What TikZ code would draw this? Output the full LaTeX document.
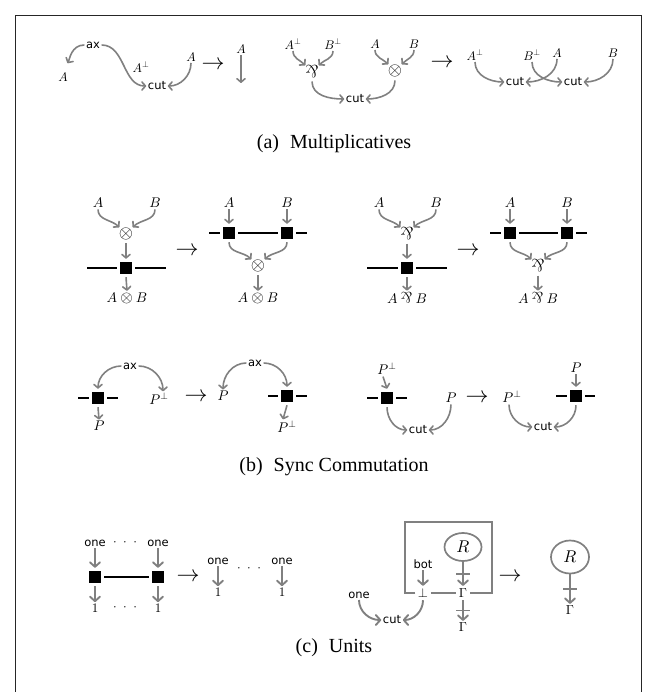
\documentclass[tikz,border=0pt]{standalone}
\usepackage{fontspec}
\DeclareFontShape{OML}{cmm}{m}{it}{<->cmmi10}{}
\DeclareFontShape{OMS}{cmsy}{m}{n}{<->cmsy10}{}
\DeclareFontShape{OT1}{cmr}{m}{n}{<->cmr10}{}
\newfontfamily\dvs{DejaVu Sans}
\newfontfamily\capf{Liberation Serif}
\usetikzlibrary{arrows.meta,calc,shapes.geometric}
\newcommand{\parrsym}{\mathbin{\scalebox{1.1}{\rotatebox[origin=c]{180}{$\&$}}}}
\newcommand{\bigparr}{\scalebox{1.35}{\rotatebox[origin=c]{180}{$\&$}}}
\newcommand{\bigtens}{\scalebox{1.4}{$\otimes$}}
\newcommand{\midtens}{\mathbin{\scalebox{1.15}{$\otimes$}}}
\newcommand{\dotsrow}{$\cdot$\hspace{6.5pt}$\cdot$\hspace{6.5pt}$\cdot$}
\begin{document}
\begin{tikzpicture}[x=1pt,y=1pt,
  mth/.style={font=\fontsize{14}{16}\selectfont, inner sep=1.5pt},
  mtha/.style={font=\fontsize{12.5}{14}\selectfont, inner sep=1.5pt},
  mthc/.style={font=\fontsize{13}{15}\selectfont, inner sep=1.5pt},
  sfl/.style={font=\dvs\fontsize{11.5}{13}\selectfont, inner sep=1.5pt},
  blk/.style={fill=black, minimum size=11.5pt, inner sep=0pt, outer sep=3.5pt},
  conn/.style={draw=gray, line width=1.6pt, -{Straight Barb[length=3.5pt,width=8pt,round]}},
  connb/.style={draw=gray, line width=1.9pt, -{Straight Barb[length=4.5pt,width=10pt,round]}},
  wire/.style={line width=2.5pt},
  redn/.style={font=\fontsize{23}{26}\selectfont, inner sep=0pt},
  capt/.style={font=\capf\fontsize{20}{24}\selectfont},
  opn/.style={circle, inner sep=0pt, font=\fontsize{13}{15}\selectfont},
  boxl/.style={draw=gray, line width=2.2pt},
  frm/.style={draw=black!85, line width=0.9pt},
  rcirc/.style={ellipse, draw=gray, line width=1.7pt, inner sep=0pt, font=\fontsize{17}{20}\selectfont},
  tick/.style={draw=gray, line width=1.6pt}
]
\useasboundingbox (0,0) rectangle (654,-692);
\draw[frm] (15,-692) -- (15,-15) -- (641,-15) -- (641,-692);

% ---------- (a) Multiplicatives ----------
% left
\node[sfl] (ax1) at (93,-45) {ax};
\node[mtha] (A1) at (63,-77) {$A$};
\node[mtha] (Ap1) at (141,-67) {$A^\perp$};
\node[sfl] (cut1) at (157,-86) {cut};
\node[mtha] (A2) at (191,-57) {$A$};
\node[redn] (r1) at (213,-65) {$\to$};
\node[mtha] (A3) at (241,-49) {$A$};
\coordinate (A3e) at (241,-83);
\draw[conn, shorten >=9pt] (ax1.west) to[out=180,in=60] (A1.north);
\draw[conn] (ax1.east) to[out=0,in=180] (cut1.west);
\draw[conn] (A2.south) to[out=-90,in=0] (cut1.east);
\draw[conn] (A3.south) -- (A3e);
% middle
\node[mtha] (Ap2) at (293,-44) {$A^\perp$};
\node[mtha] (Bp2) at (333,-44) {$B^\perp$};
\node[mtha] (A4) at (375,-44) {$A$};
\node[mtha] (B4) at (414,-44) {$B$};
\node[opn] (par1) at (312,-72) {\bigparr};
\node[opn] (ten1) at (395,-71) {\bigtens};
\node[sfl] (cut2) at (355,-99) {cut};
\node[redn] (r2) at (442,-63) {$\to$};
\draw[conn] (Ap2.south) to[out=-90,in=135] (par1.135);
\draw[conn] (Bp2.south) to[out=-90,in=45] (par1.45);
\draw[conn] (A4.south) to[out=-90,in=135] (ten1.135);
\draw[conn] (B4.south) to[out=-90,in=45] (ten1.45);
\draw[conn] (par1.south) to[out=-90,in=180] (cut2.west);
\draw[conn] (ten1.south) to[out=-90,in=0] (cut2.east);
% right
\node[mtha] (Ap3) at (475,-55) {$A^\perp$};
\node[mtha] (Bp3) at (532,-55) {$B^\perp$};
\node[mtha] (A5) at (557,-53) {$A$};
\node[mtha] (B5) at (613,-53) {$B$};
\node[sfl] (cut3) at (515,-82) {cut};
\node[sfl] (cut4) at (573,-82) {cut};
\draw[conn] (Ap3.south) to[out=-90,in=180] (cut3.west);
\draw[conn] (Bp3.south) to[out=-90,in=180] (cut4.west);
\draw[conn] (A5.south) to[out=-90,in=0] (cut3.east);
\draw[conn] (B5.south) to[out=-90,in=0] (cut4.east);
\node[capt] (capa) at (334,-144) {(a)\hspace{0.55em}Multiplicatives};

% ---------- (b) Sync Commutation ----------
% tensor left
\node[mth] (A6) at (98,-203) {$A$};
\node[mth] (B6) at (155,-203) {$B$};
\node[opn] (ten2) at (126,-234) {\bigtens};
\node[blk] (sq1) at (126,-268) {};
\node[mth] (AtB1) at (127,-298) {$A \midtens B$};
\coordinate (s1l) at (87,-268);
\coordinate (s1r) at (166,-268);
\draw[conn] (A6.south) to[out=-90,in=135] (ten2.135);
\draw[conn] (B6.south) to[out=-90,in=45] (ten2.45);
\draw[conn] (ten2.south) -- (sq1.north);
\draw[conn] (sq1.south) -- (AtB1.north);
\draw[wire] (sq1.west) -- (s1l);
\draw[wire] (sq1.east) -- (s1r);
\node[redn] (r3) at (187,-251) {$\to$};
% tensor right
\node[mth] (A7) at (229,-203) {$A$};
\node[mth] (B7) at (287,-203) {$B$};
\node[blk] (sq2) at (229,-233) {};
\node[blk] (sq3) at (287,-233) {};
\node[opn] (ten3) at (258,-266) {\bigtens};
\node[mth] (AtB2) at (258,-298) {$A \midtens B$};
\coordinate (s2l) at (209,-233);
\coordinate (s3r) at (307,-233);
\draw[conn] (A7.south) -- (sq2.north);
\draw[conn] (B7.south) -- (sq3.north);
\draw[wire] (sq2.west) -- (s2l);
\draw[wire] (sq2.east) -- (sq3.west);
\draw[wire] (sq3.east) -- (s3r);
\draw[conn] (sq2.south) to[out=-90,in=135] (ten3.135);
\draw[conn] (sq3.south) to[out=-90,in=45] (ten3.45);
\draw[conn] (ten3.south) -- (AtB2.north);
% par left
\node[mth] (A8) at (379,-203) {$A$};
\node[mth] (B8) at (436,-203) {$B$};
\node[opn] (par2) at (407,-234) {\bigparr};
\node[blk] (sq4) at (407,-268) {};
\node[mth] (ApB1) at (407,-298) {$A \parrsym B$};
\coordinate (s4l) at (367,-268);
\coordinate (s4r) at (447,-268);
\draw[conn] (A8.south) to[out=-90,in=135] (par2.135);
\draw[conn] (B8.south) to[out=-90,in=45] (par2.45);
\draw[conn] (par2.south) -- (sq4.north);
\draw[conn] (sq4.south) -- (ApB1.north);
\draw[wire] (sq4.west) -- (s4l);
\draw[wire] (sq4.east) -- (s4r);
\node[redn] (r4) at (468,-251) {$\to$};
% par right
\node[mth] (A9) at (510,-203) {$A$};
\node[mth] (B9) at (567,-203) {$B$};
\node[blk] (sq5) at (510,-233) {};
\node[blk] (sq6) at (567,-233) {};
\node[opn] (par3) at (538,-266) {\bigparr};
\node[mth] (ApB2) at (538,-298) {$A \parrsym B$};
\coordinate (s5l) at (490,-233);
\coordinate (s6r) at (587,-233);
\draw[conn] (A9.south) -- (sq5.north);
\draw[conn] (B9.south) -- (sq6.north);
\draw[wire] (sq5.west) -- (s5l);
\draw[wire] (sq5.east) -- (sq6.west);
\draw[wire] (sq6.east) -- (s6r);
\draw[conn] (sq5.south) to[out=-90,in=135] (par3.135);
\draw[conn] (sq6.south) to[out=-90,in=45] (par3.45);
\draw[conn] (par3.south) -- (ApB2.north);
% ax left
\node[sfl] (ax2) at (130,-366) {ax};
\node[blk] (sq7) at (98,-398) {};
\node[mth] (Pp1) at (159,-399) {$P^\perp$};
\node[mth] (P1) at (99,-426) {$P$};
\coordinate (s7l) at (78,-398);
\coordinate (s7r) at (118,-398);
\draw[wire] (sq7.west) -- (s7l);
\draw[wire] (sq7.east) -- (s7r);
\draw[conn] (ax2.west) to[out=180,in=90] (sq7.north);
\draw[conn] (ax2.east) to[out=0,in=90] ([xshift=4pt]Pp1.north);
\draw[conn] (sq7.south) -- (P1.north);
\node[redn] (r5) at (196,-397) {$\to$};
% ax right
\node[sfl] (ax3) at (255,-363) {ax};
\node[mth] (P2) at (223,-396) {$P$};
\node[blk] (sq8) at (287,-396) {};
\node[mth] (Pp2) at (287,-427) {$P^\perp$};
\coordinate (s8l) at (268,-396);
\coordinate (s8r) at (307,-396);
\draw[wire] (sq8.west) -- (s8l);
\draw[wire] (sq8.east) -- (s8r);
\draw[conn] (ax3.west) to[out=180,in=90] (P2.north);
\draw[conn] (ax3.east) to[out=0,in=90] (sq8.north);
\draw[conn] (sq8.south) -- ([xshift=-4pt]Pp2.north);
% cut left
\node[mth] (Pp3) at (387,-369) {$P^\perp$};
\node[blk] (sq9) at (387,-398) {};
\node[mth] (P3) at (451,-398) {$P$};
\node[sfl] (cut5) at (418,-430) {cut};
\coordinate (s9l) at (367,-398);
\coordinate (s9r) at (407,-398);
\draw[wire] (sq9.west) -- (s9l);
\draw[wire] (sq9.east) -- (s9r);
\draw[conn] ([xshift=-4pt]Pp3.south) -- (sq9.north);
\draw[conn] (sq9.south) to[out=-90,in=180] (cut5.west);
\draw[conn] (P3.south) to[out=-90,in=0] (cut5.east);
\node[redn] (r6) at (477,-398) {$\to$};
% cut right
\node[mth] (Pp4) at (512,-397) {$P^\perp$};
\node[mth] (P4) at (576,-368) {$P$};
\node[blk] (sq10) at (576,-396) {};
\node[sfl] (cut6) at (543,-427) {cut};
\coordinate (s10l) at (556,-396);
\coordinate (s10r) at (595,-396);
\draw[wire] (sq10.west) -- (s10l);
\draw[wire] (sq10.east) -- (s10r);
\draw[conn] (P4.south) -- (sq10.north);
\draw[conn] ([xshift=-3pt]Pp4.south) to[out=-90,in=180] (cut6.west);
\draw[conn] (sq10.south) to[out=-90,in=0] (cut6.east);
\node[capt] (capb) at (334,-467) {(b)\hspace{0.55em}Sync Commutation};

% ---------- (c) Units ----------
\node[sfl] (one1) at (95,-543) {one};
\node[sfl] (one2) at (158,-543) {one};
\node[mthc] (d1) at (125,-543) {\dotsrow};
\node[blk] (sq11) at (95,-577) {};
\node[blk] (sq12) at (158,-577) {};
\node[mthc] (u1) at (95,-608) {$1$};
\node[mthc] (u2) at (158,-608) {$1$};
\node[mthc] (d2) at (125,-608) {\dotsrow};
\draw[connb] (one1.south) -- (sq11.north);
\draw[connb] (one2.south) -- (sq12.north);
\draw[wire] (sq11.east) -- (sq12.west);
\draw[connb] (sq11.south) -- (u1.north);
\draw[connb] (sq12.south) -- (u2.north);
\node[redn] (r7) at (188,-577) {$\to$};
\node[sfl] (one3) at (218,-561) {one};
\node[sfl] (one4) at (282,-561) {one};
\node[mthc] (d3) at (249,-569) {\dotsrow};
\node[mthc] (u3) at (218,-592) {$1$};
\node[mthc] (u4) at (282,-592) {$1$};
\draw[connb] (one3.south) -- (u3.north);
\draw[connb] (one4.south) -- (u4.north);
% box diagram
\node[rcirc, minimum width=37pt, minimum height=28pt] (R1) at (463,-547) {$R$};
\node[mthc, inner sep=2.5pt] (G1) at (463,-593) {$\Gamma$};
\node[mthc] (G2) at (463,-627) {$\Gamma$};
\node[sfl] (bot) at (423,-564) {bot};
\node[mthc, inner sep=2.5pt] (perp) at (423,-593) {$\bot$};
\node[sfl] (one5) at (359,-595) {one};
\node[sfl] (cut7) at (392,-620) {cut};
\coordinate (bx1) at (405,-593);
\coordinate (bx2) at (405,-522);
\coordinate (bx3) at (492,-522);
\coordinate (bx4) at (492,-593);
\draw[boxl] (perp.west) -- (bx1) -- (bx2) -- (bx3) -- (bx4) -- (G1.east);
\draw[boxl] (perp.east) -- (G1.west);
\draw[connb] (R1.south) -- (G1.north);
\draw[tick] ($(R1.south)!0.5!(G1.north)+(-7,0)$) -- ++(14,0);
\draw[connb] (G1.south) -- (G2.north);
\draw[tick] ($(G1.south)!0.5!(G2.north)+(-7,0)$) -- ++(14,0);
\draw[connb] (bot.south) -- (perp.north);
\draw[connb] (one5.south) to[out=-90,in=180] (cut7.west);
\draw[connb] (perp.south) to[out=-90,in=0] (cut7.east);
\node[redn] (r8) at (510,-577) {$\to$};
\node[rcirc, minimum width=38pt, minimum height=33pt] (R2) at (570,-557) {$R$};
\node[mthc] (G3) at (570,-610) {$\Gamma$};
\draw[connb] (R2.south) -- (G3.north);
\draw[tick] ($(R2.south)!0.5!(G3.north)+(-7,0)$) -- ++(14,0);
\node[capt] (capc) at (334,-648) {(c)\hspace{0.55em}Units};
\end{tikzpicture}
\end{document}
